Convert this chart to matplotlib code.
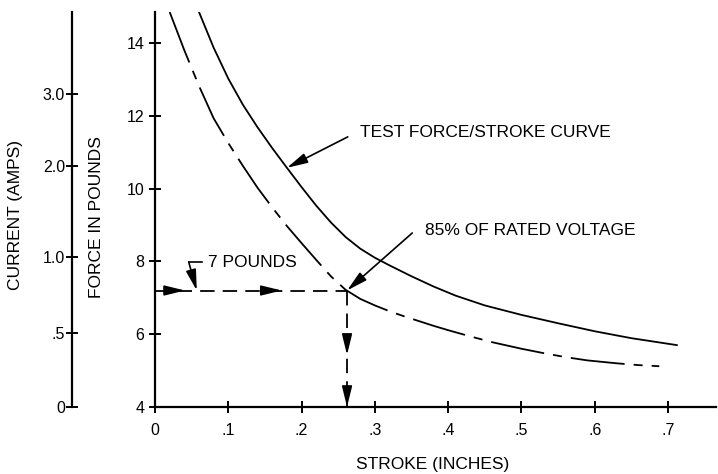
import matplotlib
matplotlib.use('Agg')
import matplotlib.pyplot as plt

plt.rcParams['font.family'] = ['Liberation Sans', 'DejaVu Sans']

# ---- data ----
stroke_test = [0.060, 0.080, 0.100, 0.120, 0.140, 0.160, 0.180, 0.200, 0.220, 0.240, 0.260, 0.280,
               0.300, 0.320, 0.350, 0.380, 0.410, 0.450, 0.500, 0.550, 0.600, 0.650, 0.712]
force_test = [14.85, 13.87, 13.02, 12.30, 11.68, 11.11, 10.57, 10.04, 9.53, 9.07, 8.67, 8.35,
              8.10, 7.89, 7.59, 7.31, 7.06, 6.79, 6.53, 6.30, 6.08, 5.89, 5.70]

stroke_85 = [0.020, 0.040, 0.060, 0.080, 0.100, 0.120, 0.140, 0.160, 0.180, 0.200, 0.220, 0.240,
             0.260, 0.280, 0.300, 0.320, 0.340, 0.360, 0.380, 0.400, 0.430, 0.460, 0.500, 0.530,
             0.560, 0.590, 0.630, 0.660, 0.688]
force_85 = [14.85, 13.80, 12.82, 11.93, 11.25, 10.62, 10.02, 9.48, 8.97, 8.50, 8.04, 7.59,
            7.22, 6.97, 6.79, 6.63, 6.49, 6.36, 6.23, 6.11, 5.94, 5.78, 5.60, 5.48,
            5.37, 5.28, 5.20, 5.15, 5.12]

rated_stroke = 0.262
rated_force = 7.2

x_ticks = [0, 0.1, 0.2, 0.3, 0.4, 0.5, 0.6, 0.7]
x_tick_labels = ['0', '.1', '.2', '.3', '.4', '.5', '.6', '.7']
force_ticks = [4, 6, 8, 10, 12, 14]
force_tick_labels = ['4', '6', '8', '10', '12', '14']
current_tick_labels = ['0', '.5', '1.0', '2.0', '3.0']
current_tick_force = [4.0, 6.03, 8.12, 10.62, 12.6]  # where each current value sits on the force scale

# ---- figure ----
W, H = 718, 474
fig = plt.figure(figsize=(W / 100, H / 100), dpi=100)

def fx(px):
    return px / W

def fy(py):
    return 1 - py / H

ax_left, ax_bottom, ax_right, ax_top = 155, 407, 716, 12
ax = fig.add_axes([fx(ax_left), fy(ax_bottom), (ax_right - ax_left) / W, (ax_bottom - ax_top) / H])
ax.set_xlim(0, 0.7654)
ax.set_ylim(4, 14.85)

for s in ['top', 'right']:
    ax.spines[s].set_visible(False)
for s in ['left', 'bottom']:
    ax.spines[s].set_linewidth(1.6)

ax.set_xticks(x_ticks)
ax.set_xticklabels(x_tick_labels)
ax.set_yticks(force_ticks)
ax.set_yticklabels(force_tick_labels)
ax.tick_params(axis='both', direction='inout', length=9, width=1.4, labelsize=11.5)
ax.tick_params(axis='y', pad=3)
ax.tick_params(axis='x', pad=7)

# curves
ax.plot(stroke_test, force_test, color='black', lw=1.3, solid_joinstyle='round')
ax.plot(stroke_85, force_85, color='black', lw=1.3, linestyle=(0, (30, 5, 5, 5)))

# dashed projection lines
ax.plot([0, rated_stroke], [rated_force, rated_force], color='black', lw=1.3, linestyle=(0, (8, 4.5)))
ax.plot([rated_stroke, rated_stroke], [rated_force, 4], color='black', lw=1.3, linestyle=(0, (8, 4.5)))

head = dict(arrowstyle='-|>,head_length=0.9,head_width=0.22', mutation_scale=14,
            color='black', lw=1.2, shrinkA=0, shrinkB=0)

# arrow heads on the projection lines
for tip in [0.041, 0.173]:
    ax.annotate('', xy=(tip, rated_force), xytext=(tip - 0.02, rated_force), arrowprops=head)
for tip in [5.43, 4.0]:
    ax.annotate('', xy=(rated_stroke, tip), xytext=(rated_stroke, tip + 0.5), arrowprops=head)

# annotations
ax.annotate('', xy=(0.180, 10.57), xytext=(0.263, 11.42), arrowprops=head)
ax.text(0.280, 11.53, 'TEST FORCE/STROKE CURVE', fontsize=12.5, ha='left', va='center')

ax.annotate('', xy=(rated_stroke, rated_force), xytext=(0.351, 8.78), arrowprops=head)
ax.text(0.368, 8.84, '85% OF RATED VOLTAGE', fontsize=12.5, ha='left', va='center')

ax.plot([0.064, 0.046], [7.98, 7.98], color='black', lw=1.2)
ax.annotate('', xy=(0.057, rated_force), xytext=(0.046, 7.98), arrowprops=head)
ax.text(0.072, 7.96, '7 POUNDS', fontsize=12.5, ha='left', va='center')

# current axis (left)
ax2 = fig.add_axes([fx(72), fy(ax_bottom), 0.001, (ax_bottom - ax_top) / H])
ax2.set_ylim(4, 14.85)
for s in ['top', 'right', 'bottom']:
    ax2.spines[s].set_visible(False)
ax2.spines['left'].set_linewidth(1.6)
ax2.patch.set_visible(False)
ax2.set_xticks([])
ax2.set_yticks(current_tick_force)
ax2.set_yticklabels(current_tick_labels)
ax2.tick_params(axis='y', direction='inout', length=8, width=1.4, labelsize=11.5, pad=1)

# axis titles
fig.text(fx(16), fy(215), 'CURRENT (AMPS)', rotation=90, ha='center', va='center', fontsize=12.5)
fig.text(fx(97), fy(217), 'FORCE IN POUNDS', rotation=90, ha='center', va='center', fontsize=12.5)
fig.text(fx(433), fy(465), 'STROKE (INCHES)', ha='center', va='center', fontsize=12.5)

fig.savefig('out.png', dpi=100)
